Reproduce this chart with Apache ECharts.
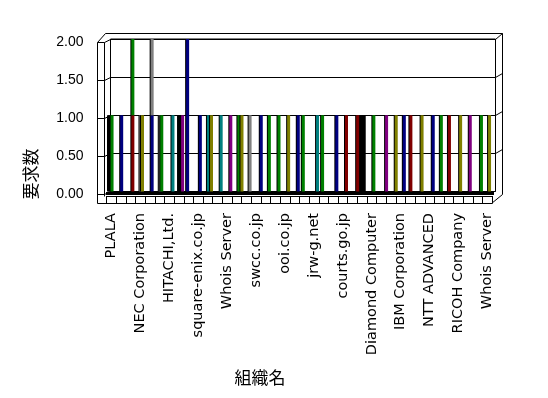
<!DOCTYPE html>
<html>
<head>
<meta charset="utf-8">
<script src="https://cdn.jsdelivr.net/npm/echarts@6/dist/echarts.min.js"></script>
<style>
  html, body { margin: 0; padding: 0; background: #fff; }
  #chart { width: 548px; height: 398px; }
</style>
</head>
<body>
<div id="chart"></div>
<script>
const _ = '-'

// 組織名 (only every third name is printed on the axis, the rest are not readable)
const categories = [
  'PLALA', '', '', 'NEC Corporation', '', '', 'HITACHI,Ltd.', '', '', 'square-enix.co.jp',
  '', '', 'Whois Server', '', '', 'swcc.co.jp', '', '', 'ooi.co.jp', '',
  '', 'jrw-g.net', '', '', 'courts.go.jp', '', '', 'Diamond Computer', '', '',
  'IBM Corporation', '', '', 'NTT ADVANCED', '', '', 'RICOH Company', '', '', 'Whois Server'
]

const yTicks = [0, 0.5, 1, 1.5, 2]

// 要求数, one array per cluster lane (left to right inside a category)
const lane0 = [1,_,_,_,_,_,_,_,_,_, _,_,_,_,_,_,_,_,_,_, _,_,_,_,_,_,_,_,_,_, _,_,_,_,_,_,_,_,_,_]
const lane1 = [_,_,_,_,_,_,_,_,2,_, _,_,_,_,_,_,_,_,_,_, 1,_,1,_,_,_,1,_,_,_, _,_,_,_,_,_,_,_,_,_]
const lane2 = [1,1,_,1,_,1,_,1,_,_, 1,_,_,_,_,_,_,_,_,_, _,_,_,_,_,_,_,_,_,_, _,1,_,_,_,1,_,_,_,_]
const lane3 = [_,_,1,1,1,1,_,_,_,1, _,_,_,1,_,_,_,_,_,_, _,_,_,_,_,_,1,1,_,_, _,_,1,_,1,_,1,1,_,1]
const lane3Top = [_,_,1,_,1,_,_,_,_,_, _,_,_,_,_,_,_,_,_,_, _,_,_,_,_,_,_,_,_,_, _,_,_,_,_,_,_,_,_,_]
const lane4 = [_,_,_,_,_,_,1,1,_,_, 1,1,1,_,1,_,1,1,1,1, _,1,_,1,1,_,_,_,_,_, 1,_,_,1,_,_,_,_,1,_]
const lane5 = [_,_,_,_,_,_,_,_,_,_, _,_,_,1,_,1,_,_,_,_, _,_,_,_,_,1,_,_,1,1, _,_,_,_,_,_,_,_,_,_]

// bar colours, one letter per category
const palette = { K: '#000000', G: '#008000', N: '#000080', R: '#800000', A: '#808080', O: '#808000', P: '#800080', T: '#008080' }
const lane0Colors = 'K.........' + '..........' + '..........' + '..........'
const lane1Colors = '........N.' + '..........' + 'G.G...K...' + '..........'
const lane2Colors = 'GN.A.A.K..' + 'T.........' + '..........' + '.R...R....'
const lane3Colors = '..RONG...N' + '...G......' + '......KG..' + '..O.G.OP.O'
const lane3TopColors = '..G.A.....' + '..........' + '..........' + '..........'
const lane4Colors = '......TP..' + 'OTP.A.GGON' + '.T.NR.....' + 'N..N....G.'
const lane5Colors = '..........' + '...O.N....' + '.....R..PO' + '..........'

// frame geometry (px)
const backL = 110.5, backR = 495.5, backT = 39, backB = 191.5
const wallL = 97.5, wallM = 104.5, outerR = 502.5, outerT = 33.5
const floorL = 106.7, floorR = 492.3, floorT = 196, floorB = 203
const crisp = v => Math.round(v - 0.5) + 0.5
const yBack = v => backT + (2 - v) / 2 * (backB - backT)

function line (x1, y1, x2, y2) {
  return {
    type: 'line',
    silent: true,
    shape: { x1: crisp(x1), y1: crisp(y1), x2: crisp(x2), y2: crisp(y2) },
    style: { stroke: '#000', lineWidth: 1 }
  }
}

function laneSeries (values, colors, stack) {
  return {
    type: 'bar',
    xAxisIndex: 0,
    yAxisIndex: 0,
    stack: stack,
    barWidth: 3,
    barGap: '-48.7%',
    silent: true,
    itemStyle: { shadowColor: '#000', shadowOffsetX: -1, shadowOffsetY: 0, shadowBlur: 0 },
    data: values.map((v, i) => v === _ ? _ : { value: v, itemStyle: { color: palette[colors[i]] } })
  }
}

const frame = []
// outer box and left wall
frame.push({
  type: 'polyline',
  silent: true,
  shape: { points: [[wallL, 42.5], [105.5, outerT], [outerR, outerT], [outerR, 194.5], [491.5, 203.5], [wallL, 203.5], [wallL, 42.5]] },
  style: { stroke: '#000', fill: null, lineWidth: 1 }
})
frame.push(line(wallM, 42, wallM, floorT))
yTicks.forEach(v => {
  const yb = yBack(v)
  frame.push(line(wallL, yb + 3, wallM, yb + 3))
  frame.push(line(wallM, yb + 3, backL, yb))
  if (v > 0) frame.push(line(backR, yb, outerR, yb - (v === 2 ? 5.5 : 4)))
})
// floor
frame.push({ type: 'rect', silent: true, shape: { x: 106, y: 192, width: 388, height: 3 }, style: { fill: '#000' } })
frame.push(line(floorL, floorT, floorR, floorT))
// axis titles
frame.push({
  type: 'text', silent: true, x: 260, y: 378,
  style: { text: '組織名', font: '17px "Noto Sans CJK JP"', fill: '#000', align: 'center', verticalAlign: 'middle' }
})
frame.push({
  type: 'text', silent: true, x: 31, y: 174, rotation: Math.PI / 2,
  style: { text: '要求数', font: '17px "Noto Sans CJK JP"', fill: '#000', align: 'center', verticalAlign: 'middle' }
})

const chart = echarts.init(document.getElementById('chart'))
chart.setOption({
  backgroundColor: '#fff',
  animation: false,
  grid: [
    // bars
    { left: 108, top: backT, width: 385.6, height: backB - backT },
    // y labels on the front edge of the side wall
    { left: wallL, top: 42, width: 10, height: backB - backT },
    // floor cells + category labels
    { left: floorL, top: floorT, width: floorR - floorL, height: floorB - floorT },
    // back wall
    { left: backL, top: backT, width: backR - backL, height: backB - backT, show: true, borderColor: '#000', borderWidth: 1, backgroundColor: 'transparent' }
  ],
  xAxis: [
    { type: 'category', gridIndex: 0, data: categories, show: false },
    { type: 'value', gridIndex: 1, show: false },
    {
      type: 'category', gridIndex: 2, data: categories,
      axisLine: { lineStyle: { color: '#000', width: 1 } },
      axisTick: { show: true, inside: true, interval: 0, length: 7, lineStyle: { color: '#000' } },
      axisLabel: { interval: 2, rotate: 90, margin: 10, color: '#000', fontFamily: 'DejaVu Sans', fontSize: 14.5 }
    },
    { type: 'category', gridIndex: 3, data: categories, show: false }
  ],
  yAxis: [
    { type: 'value', gridIndex: 0, min: 0, max: 2, show: false },
    {
      type: 'value', gridIndex: 1, min: 0, max: 2, interval: 0.5,
      axisLine: { show: false }, axisTick: { show: false }, splitLine: { show: false },
      axisLabel: { margin: 14, color: '#000', fontFamily: 'Liberation Sans', fontSize: 14, formatter: v => v.toFixed(2) }
    },
    { type: 'value', gridIndex: 2, show: false },
    {
      type: 'value', gridIndex: 3, min: 0, max: 2, interval: 0.5,
      axisLine: { show: false }, axisTick: { show: false }, axisLabel: { show: false },
      splitLine: { show: true, lineStyle: { color: '#000', width: 1 } }
    }
  ],
  graphic: frame,
  series: [
    laneSeries(lane0, lane0Colors, 'a'),
    laneSeries(lane1, lane1Colors, 'b'),
    laneSeries(lane2, lane2Colors, 'c'),
    laneSeries(lane3, lane3Colors, 'd'),
    laneSeries(lane3Top, lane3TopColors, 'd'),
    laneSeries(lane4, lane4Colors, 'e'),
    laneSeries(lane5, lane5Colors, 'f')
  ]
})
</script>
</body>
</html>
